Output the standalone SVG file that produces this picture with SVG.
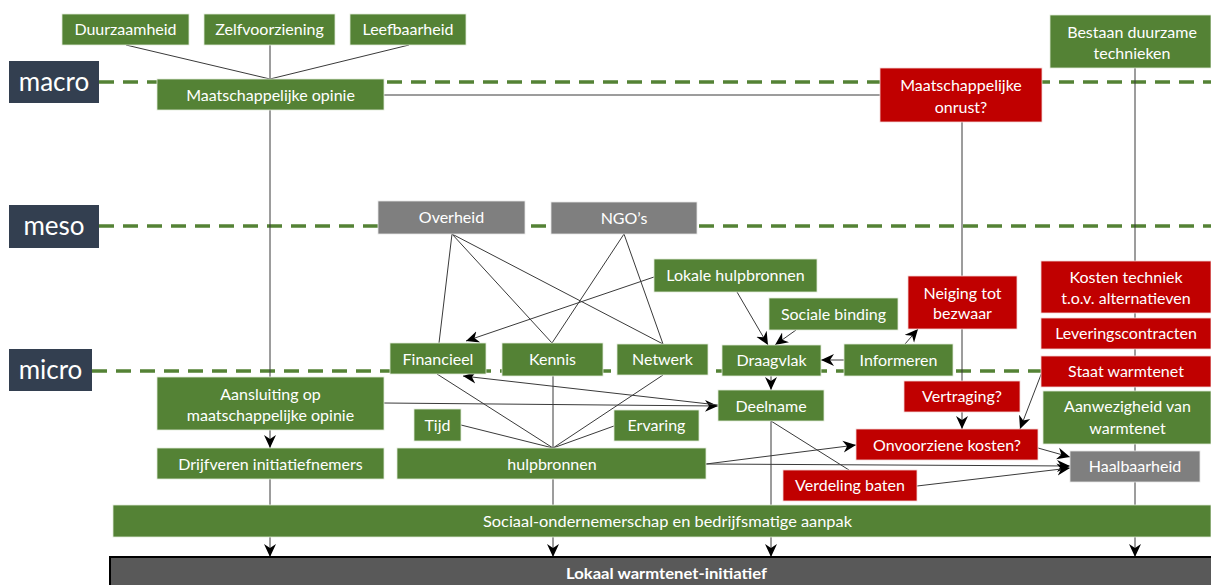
<svg xmlns="http://www.w3.org/2000/svg" width="1211" height="585" viewBox="0 0 1211 585">
<style>
.g{fill:#548235;stroke:#e2ead9;stroke-width:0.8}
.r{fill:#C00000;stroke:#f3d6d6;stroke-width:0.8}
.y{fill:#7F7F7F;stroke:#e6e6e6;stroke-width:0.8}
.lv{fill:#333F50}
.t{fill:#fff;font-family:Lato,"Liberation Sans",sans-serif;font-size:16px;text-anchor:middle}
.lt{fill:#fff;font-family:Lato,"Liberation Sans",sans-serif;font-size:26px;text-anchor:middle}
.dash{stroke:#548235;stroke-width:3.5;stroke-dasharray:15 9;fill:none}
.ln{stroke:#3a3a3a;stroke-width:1;fill:none}
.ar{stroke:#3a3a3a;stroke-width:1;fill:none;marker-end:url(#ah)}
</style>
<defs>
<marker id="ah" markerUnits="userSpaceOnUse" markerWidth="14" markerHeight="13" refX="13" refY="6.5" orient="auto">
<path d="M0,0.5 L13,6.5 L0,12.5 L4,6.5 Z" fill="#000"/>
</marker>
</defs>
<g id="levels-lines">
<path class="dash" d="M99 82 H1211"/>
<path class="dash" d="M99 226 H1211"/>
<path class="dash" d="M92 371 H1211"/>
</g>
<g id="connectors">
<path class="ln" d="M126 45 L270 79"/>
<path class="ln" d="M270 45 L270 79"/>
<path class="ln" d="M409 45 L270 79"/>
<path class="ln" d="M384 95 L880 95"/>
<path class="ar" d="M270 110 L270 448"/>
<path class="ar" d="M270 479 L270 557"/>
<path class="ar" d="M962 122 L962 429"/>
<path class="ar" d="M1135 68 L1135 557"/>
<path class="ln" d="M452 234 L439 343"/>
<path class="ln" d="M452 234 L552 343"/>
<path class="ln" d="M452 234 L663 344"/>
<path class="ln" d="M624 234 L552 343"/>
<path class="ln" d="M624 234 L663 344"/>
<path class="ar" d="M654 277 L466 341"/>
<path class="ar" d="M737 292 L768 345"/>
<path class="ar" d="M796 330 L775 345"/>
<path class="ar" d="M844 360 L821 360"/>
<path class="ar" d="M905 344 L918 329"/>
<path class="ar" d="M771 376 L771 390"/>
<path class="ar" d="M384 403 L718 406"/>
<path class="ar" d="M718 405 L463 376"/>
<path class="ln" d="M437 374 L553 448"/>
<path class="ln" d="M553 376 L553 448"/>
<path class="ln" d="M663 375 L553 448"/>
<path class="ln" d="M461 425 L553 448"/>
<path class="ln" d="M614 426 L553 448"/>
<path class="ar" d="M553 479 L553 557"/>
<path class="ar" d="M771 421 L771 557"/>
<path class="ln" d="M771 421 L849 470"/>
<path class="ar" d="M706 464 L856 445"/>
<path class="ar" d="M706 464 L1070 466"/>
<path class="ar" d="M1038 448 L1070 457"/>
<path class="ar" d="M917 486 L1070 468"/>
<path class="ar" d="M1042 372 L1020 429"/>
</g>
<g id="macro"><rect class="lv" x="9" y="61" width="90" height="42"/><text class="lt" x="54" y="91">macro</text></g>
<g id="meso"><rect class="lv" x="9" y="205" width="90" height="43"/><text class="lt" x="54" y="235">meso</text></g>
<g id="micro"><rect class="lv" x="9" y="349" width="83" height="42"/><text class="lt" x="50.5" y="379">micro</text></g>
<g id="duurzaamheid"><rect class="g" x="62" y="14" width="127" height="31"/><text class="t" x="125.5" y="35">Duurzaamheid</text></g>
<g id="zelfvoorziening"><rect class="g" x="204" y="14" width="131" height="31"/><text class="t" x="269.5" y="35">Zelfvoorziening</text></g>
<g id="leefbaarheid"><rect class="g" x="350" y="14" width="116" height="31"/><text class="t" x="408" y="35">Leefbaarheid</text></g>
<g id="maatschappelijke-opinie"><rect class="g" x="157" y="79" width="227" height="31"/><text class="t" x="270.5" y="100.5">Maatschappelijke opinie</text></g>
<g id="onrust"><rect class="r" x="880" y="68" width="162" height="54"/><text class="t" x="961" y="90.5">Maatschappelijke</text><text class="t" x="961" y="112.5">onrust?</text></g>
<g id="bestaan"><rect class="g" x="1050" y="15" width="161" height="53"/><text class="t" x="1132" y="37.5">Bestaan duurzame</text><text class="t" x="1132" y="58.5">technieken</text></g>
<g id="overheid"><rect class="y" x="378" y="201" width="147" height="33"/><text class="t" x="451.5" y="223">Overheid</text></g>
<g id="ngos"><rect class="y" x="551" y="202" width="146" height="32"/><text class="t" x="624" y="223.5">NGO’s</text></g>
<g id="lokale-hulpbronnen"><rect class="g" x="654" y="259" width="163" height="33"/><text class="t" x="735.5" y="281">Lokale hulpbronnen</text></g>
<g id="sociale-binding"><rect class="g" x="769" y="298" width="129" height="32"/><text class="t" x="833.5" y="320">Sociale binding</text></g>
<g id="neiging"><rect class="r" x="908" y="276" width="109" height="53"/><text class="t" x="962.5" y="298.5">Neiging tot</text><text class="t" x="962.5" y="319">bezwaar</text></g>
<g id="kosten-techniek"><rect class="r" x="1041" y="261" width="170" height="52"/><text class="t" x="1126" y="282.5">Kosten techniek</text><text class="t" x="1126" y="303.5">t.o.v. alternatieven</text></g>
<g id="leveringscontracten"><rect class="r" x="1041" y="318" width="170" height="31"/><text class="t" x="1126" y="339">Leveringscontracten</text></g>
<g id="staat-warmtenet"><rect class="r" x="1041" y="356" width="170" height="31"/><text class="t" x="1126" y="377">Staat warmtenet</text></g>
<g id="aanwezigheid"><rect class="g" x="1043" y="391" width="168" height="53"/><text class="t" x="1127.5" y="412">Aanwezigheid van</text><text class="t" x="1127.5" y="433.5">warmtenet</text></g>
<g id="haalbaarheid"><rect class="y" x="1070" y="451" width="130" height="31"/><text class="t" x="1135" y="472">Haalbaarheid</text></g>
<g id="financieel"><rect class="g" x="390" y="343" width="96" height="31"/><text class="t" x="438" y="364.5">Financieel</text></g>
<g id="kennis"><rect class="g" x="502" y="343" width="101" height="33"/><text class="t" x="552.5" y="365">Kennis</text></g>
<g id="netwerk"><rect class="g" x="617" y="344" width="91" height="31"/><text class="t" x="662.5" y="365">Netwerk</text></g>
<g id="draagvlak"><rect class="g" x="722" y="345" width="99" height="31"/><text class="t" x="771.5" y="366">Draagvlak</text></g>
<g id="informeren"><rect class="g" x="844" y="344" width="109" height="32"/><text class="t" x="898.5" y="366">Informeren</text></g>
<g id="aansluiting"><rect class="g" x="157" y="377" width="227" height="53"/><text class="t" x="270.5" y="399.5">Aansluiting op</text><text class="t" x="270.5" y="420.5">maatschappelijke opinie</text></g>
<g id="drijfveren"><rect class="g" x="157" y="448" width="227" height="31"/><text class="t" x="270.5" y="469.5">Drijfveren initiatiefnemers</text></g>
<g id="tijd"><rect class="g" x="414" y="409" width="47" height="32"/><text class="t" x="437.5" y="430.5">Tijd</text></g>
<g id="ervaring"><rect class="g" x="614" y="410" width="85" height="31"/><text class="t" x="656.5" y="431">Ervaring</text></g>
<g id="hulpbronnen"><rect class="g" x="397" y="448" width="309" height="31"/><text class="t" x="552" y="469.5">hulpbronnen</text></g>
<g id="deelname"><rect class="g" x="718" y="390" width="106" height="31"/><text class="t" x="771" y="411.5">Deelname</text></g>
<g id="vertraging"><rect class="r" x="904" y="381" width="116" height="31"/><text class="t" x="962" y="402">Vertraging?</text></g>
<g id="onvoorziene-kosten"><rect class="r" x="856" y="429" width="182" height="31"/><text class="t" x="947" y="450.5">Onvoorziene kosten?</text></g>
<g id="verdeling-baten"><rect class="r" x="783" y="470" width="134" height="31"/><text class="t" x="850" y="491">Verdeling baten</text></g>
<g id="sociaal-ondernemerschap"><rect class="g" x="113" y="505" width="1098" height="32"/><text class="t" x="667.5" y="527" font-size="15" textLength="369" lengthAdjust="spacingAndGlyphs">Sociaal-ondernemerschap en bedrijfsmatige aanpak</text></g>
<g id="lokaal-warmtenet-initiatief"><rect x="110" y="557" width="1102" height="30" fill="#595959" stroke="#000" stroke-width="2"/><text class="t" x="666.5" y="578.5" font-size="15" font-weight="bold" textLength="201" lengthAdjust="spacingAndGlyphs">Lokaal warmtenet-initiatief</text></g>
</svg>
